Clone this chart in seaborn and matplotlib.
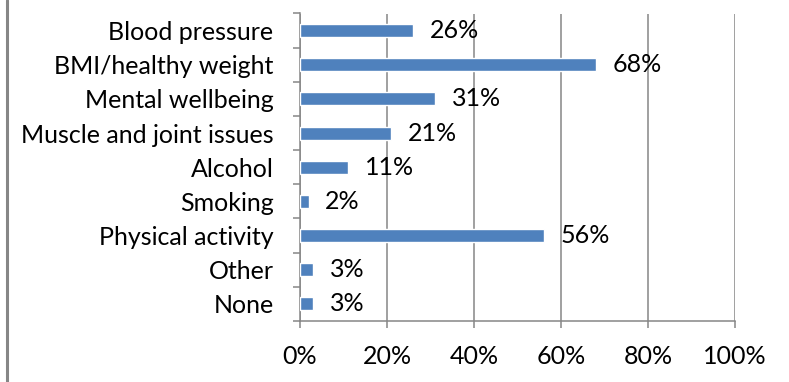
import matplotlib
matplotlib.use("Agg")
import matplotlib.pyplot as plt
from matplotlib.ticker import FixedLocator, PercentFormatter
import seaborn as sns
import pandas as pd

categories = ["Blood pressure", "BMI/healthy weight", "Mental wellbeing",
              "Muscle and joint issues", "Alcohol", "Smoking",
              "Physical activity", "Other", "None"]
shares = [26, 68, 31, 21, 11, 2, 56, 3, 3]
x_ticks = [0, 20, 40, 60, 80, 100]

df = pd.DataFrame({"topic": categories, "share": shares})

sns.set_theme(style="white")
plt.rcParams["font.family"] = ["Lato", "DejaVu Sans"]

grey = "#868686"
bar_blue = "#4F81BD"
fs = 18

fig = plt.figure(figsize=(7.89, 3.82), dpi=100)
ax = fig.add_axes([300 / 789, 1 - 321 / 382, 435 / 789, (321 - 13.5) / 382])

sns.barplot(data=df, x="share", y="topic", orient="h", color=bar_blue,
            width=0.38, saturation=1, ax=ax, zorder=3)

ax.set_xlim(0, 100)
ax.set_ylim(len(categories) - 0.5, -0.5)
ax.set_xlabel("")
ax.set_ylabel("")

# vertical gridlines at each percentage step
ax.xaxis.set_major_locator(FixedLocator(x_ticks))
ax.xaxis.set_major_formatter(PercentFormatter(100, decimals=0))
ax.grid(axis="x", color=grey, linewidth=1.1, zorder=0)
ax.set_axisbelow(True)

# category ticks sit on band boundaries
ax.yaxis.set_minor_locator(FixedLocator([i - 0.5 for i in range(len(categories) + 1)]))
ax.tick_params(axis="y", which="major", length=0, pad=19, labelsize=fs, labelcolor="black")
ax.tick_params(axis="y", which="minor", length=5, width=1.1, color=grey, left=True)
ax.tick_params(axis="x", which="major", length=5, width=1.1, color=grey,
               bottom=True, pad=12, labelsize=fs, labelcolor="black")

for side in ["top", "right"]:
    ax.spines[side].set_visible(False)
ax.spines["left"].set_color(grey)
ax.spines["left"].set_linewidth(1.1)
ax.spines["bottom"].set_color(grey)
ax.spines["bottom"].set_linewidth(1.1)

for i, v in enumerate(shares):
    ax.annotate(f"{v}%", xy=(v, i), xytext=(12, 0), textcoords="offset points",
                ha="left", va="center", fontsize=fs, color="black", zorder=4)

# chart frame edge along the left side
fig.add_artist(plt.Line2D([6.5 / 789, 6.5 / 789], [0, 1], color=grey, linewidth=2.2,
                          transform=fig.transFigure))

fig.savefig("out.png", dpi=100, facecolor="white")
